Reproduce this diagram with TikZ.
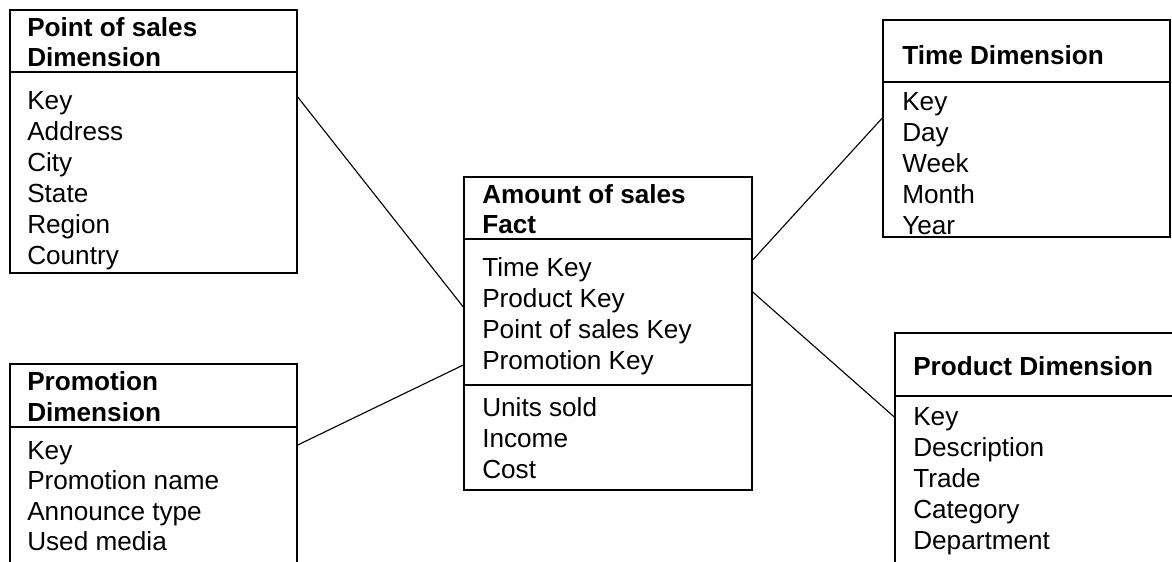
\documentclass[tikz,border=0pt]{standalone}
\usepackage{fontspec}
\setmainfont{Liberation Sans}
\usetikzlibrary{fit}
\begin{document}
\begin{tikzpicture}[x=0.025cm,y=-0.025cm,
    tbl/.style={draw,line width=1pt,inner sep=0pt},
    sep/.style={line width=1pt},
    conn/.style={line width=0.8pt},
    head/.style={anchor=base west,inner sep=0pt,font=\fontsize{18.6}{22}\selectfont\bfseries},
    row/.style={anchor=base west,inner sep=0pt,font=\fontsize{18.6}{22}\selectfont}]
    \clip (0,0) rectangle (1172,561);
    % the five tables
    \node[tbl,fit={(10,10) (297,273)}] (pos) {};
    \node[tbl,fit={(883,20) (1170,237)}] (time) {};
    \node[tbl,fit={(464,177) (752,490)}] (fact) {};
    \node[tbl,fit={(10,364) (297,590)}] (promo) {};
    \node[tbl,fit={(895,333) (1200,590)}] (prod) {};
    % header lines
    \draw[sep] (pos.west |- 0,72) -- (pos.east |- 0,72);
    \draw[sep] (time.west |- 0,82) -- (time.east |- 0,82);
    \draw[sep] (fact.west |- 0,239) -- (fact.east |- 0,239);
    \draw[sep] (fact.west |- 0,385) -- (fact.east |- 0,385);
    \draw[sep] (promo.west |- 0,427) -- (promo.east |- 0,427);
    \draw[sep] (prod.west |- 0,396) -- (prod.east |- 0,396);
    % titles
    \node[head] (posT1) at (27,36) {Point of sales};
    \node[head] (posT2) at (27,66) {Dimension};
    \node[head] (timeT) at (902,64) {Time Dimension};
    \node[head] (factT1) at (482,203) {Amount of sales};
    \node[head] (factT2) at (482,233) {Fact};
    \node[head] (promoT1) at (27,390) {Promotion};
    \node[head] (promoT2) at (27,421) {Dimension};
    \node[head] (prodT) at (913,375) {Product Dimension};
    % attributes
    \foreach \t [count=\i from 0] in {Key,Address,City,State,Region,Country}
        \node[row] (pos\i) at (27,{109+31*\i}) {\t};
    \foreach \t [count=\i from 0] in {Key,Day,Week,Month,Year}
        \node[row] (time\i) at (902,{110.5+31*\i}) {\t};
    \foreach \t [count=\i from 0] in {Time Key,Product Key,Point of sales Key,Promotion Key}
        \node[row] (key\i) at (482,{276.5+31*\i}) {\t};
    \foreach \t [count=\i from 0] in {Units sold,Income,Cost}
        \node[row] (meas\i) at (482,{416.5+31*\i}) {\t};
    \foreach \t [count=\i from 0] in {Key,Promotion name,Announce type,Used media}
        \node[row] (promo\i) at (27,{459+30.5*\i}) {\t};
    \foreach \t [count=\i from 0] in {Key,Description,Trade,Category,Department}
        \node[row] (prod\i) at (913,{425+31*\i}) {\t};
    % links to the fact table
    \draw[conn] (pos.east |- 0,97) -- (fact.west |- 0,307);
    \draw[conn] (promo.east |- 0,445) -- (fact.west |- 0,365);
    \draw[conn] (fact.east |- 0,260) -- (time.west |- 0,118);
    \draw[conn] (fact.east |- 0,292) -- (prod.west |- 0,417);
\end{tikzpicture}
\end{document}
